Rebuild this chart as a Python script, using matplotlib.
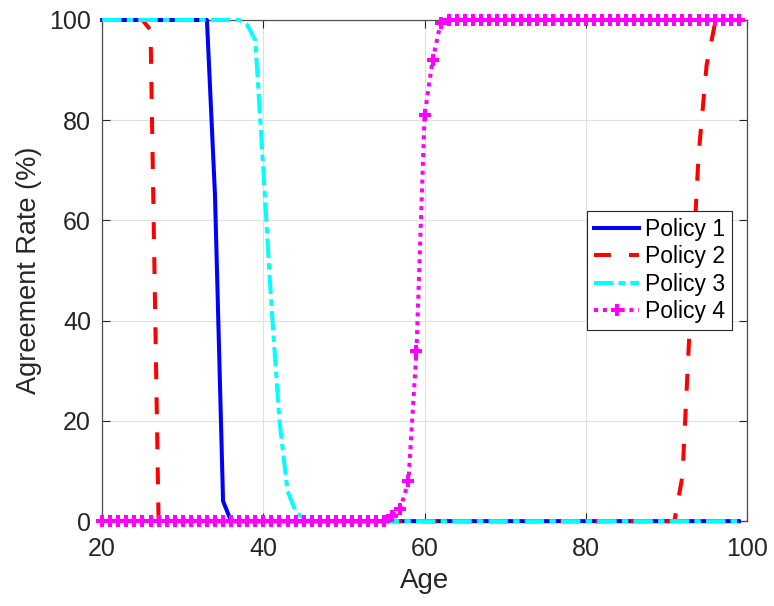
import numpy as np
import matplotlib
matplotlib.use("Agg")
import matplotlib.pyplot as plt

# ages 20..99
ages = np.arange(20, 100)

policy1 = [100] * 14 + [65, 4] + [0] * 64
policy2 = [100] * 6 + [98] + [0] * 65 + [9, 42, 73, 91, 99] + [100] * 3
policy3 = [100] * 18 + [99, 96, 70, 43, 20, 6, 2, 0.5] + [0] * 54
policy4 = [0] * 36 + [1, 2.5, 8, 34, 81, 92, 99.4] + [100] * 37

labels = ["Policy 1", "Policy 2", "Policy 3", "Policy 4"]
xticks = [20, 40, 60, 80, 100]
yticks = [0, 20, 40, 60, 80, 100]

plt.rcParams["font.family"] = ["Liberation Sans", "DejaVu Sans"]
txt = (0.15, 0.15, 0.15)

fig = plt.figure(figsize=(7.74, 6.06), dpi=100)
ax = fig.add_axes([0.132, 0.140, 0.833, 0.827])

lw = 2.9
ax.plot(ages, policy1, color="#0000ff", lw=lw, ls="-", label=labels[0], clip_on=False, zorder=3)
ax.plot(ages, policy2, color="#ff0000", lw=lw, dashes=(4.2, 4.5), label=labels[1], clip_on=False, zorder=3)
ax.plot(ages, policy3, color="#00ffff", lw=lw, dashes=(4.8, 1.3, 1.6, 1.3), label=labels[2], clip_on=False, zorder=3)
ax.plot(ages, policy4, color="#ff00ff", lw=lw, dashes=(1.0, 1.2), marker="+", ms=8.5, mew=2.9,
        label=labels[3], clip_on=False, zorder=4)

ax.set_xlim(20, 100)
ax.set_ylim(0, 100)
ax.set_xticks(xticks)
ax.set_yticks(yticks)
ax.grid(True, color=(0.88, 0.88, 0.88), lw=0.8)
ax.set_axisbelow(True)
ax.tick_params(direction="in", length=6, width=0.8, top=True, right=True,
               labelsize=18, colors=txt)
ax.tick_params(axis="x", pad=11.5)
ax.tick_params(axis="y", pad=8)
for s in ax.spines.values():
    s.set_color((0.3, 0.3, 0.3))
    s.set_linewidth(0.9)

ax.set_xlabel("Age", fontsize=20, color=txt, labelpad=5)
ax.set_ylabel("Agreement Rate (%)", fontsize=19.5, color=txt, labelpad=5)

leg = ax.legend(loc="center right", bbox_to_anchor=(1 - 15 / 645, 0.5), borderaxespad=0,
                fontsize=16.5, handlelength=1.95, handletextpad=0.26, labelspacing=0.2,
                borderpad=0.3, fancybox=False, framealpha=1)
leg.get_frame().set_edgecolor((0.15, 0.15, 0.15))
leg.get_frame().set_linewidth(0.8)

fig.savefig("out.png", dpi=100)
